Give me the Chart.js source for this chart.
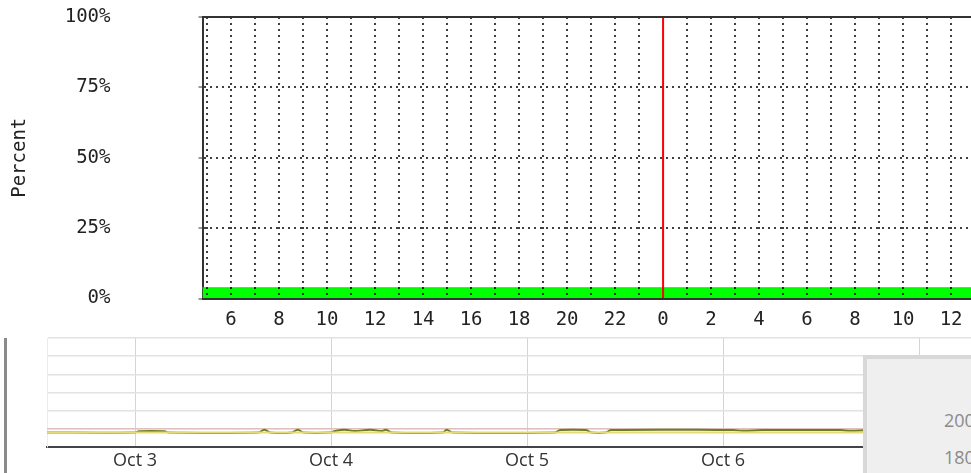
<!DOCTYPE html>
<html>
<head>
<meta charset="utf-8">
<script src="https://cdn.jsdelivr.net/npm/chart.js@4.4.1/dist/chart.umd.min.js"></script>
<style>
  html, body { margin: 0; padding: 0; background: #fff; }
  body { width: 971px; height: 473px; position: relative; overflow: hidden; }
  #usage { position: absolute; left: 0; top: 0; }
  #history { position: absolute; left: 0; top: 336px; }
  .side-bar { position: absolute; left: 4px; top: 338px; width: 3px; height: 135px; background: #8a8a8a; }
  .panel { position: absolute; left: 863px; top: 355px; width: 104px; height: 114px;
           background: #efefef; border-left: 4px solid #d8d8d8; border-top: 4px solid #d8d8d8; }
  .panel span { position: absolute; left: 77px; font: 18px "Open Sans", sans-serif; color: #8a8a8a; }
</style>
</head>
<body>
<canvas id="usage" width="971" height="336"></canvas>
<canvas id="history" width="971" height="137"></canvas>
<div class="side-bar"></div>
<div class="panel"><span style="top:49px">200</span><span style="top:86px">180</span></div>
<script>
// ---- top graph (percent per hour) ----
const percentTicks = [0, 25, 50, 75, 100];
const hourLabels = ['6', '8', '10', '12', '14', '16', '18', '20', '22', '0', '2', '4', '6', '8', '10', '12'];
const firstLabelHour = -18;
const nowHour = 0;
const hours = [-20, -19, -18, -17, -16, -15, -14, -13, -12, -11, -10, -9, -8, -7, -6, -5, -4,
  -3, -2, -1, 0, 1, 2, 3, 4, 5, 6, 7, 8, 9, 10, 11, 12, 13];
const usedPercent = [3.8, 3.8, 3.8, 3.8, 3.8, 3.8, 3.8, 3.8, 3.8, 3.8, 3.8, 3.8, 3.8, 3.8, 3.8, 3.8, 3.8,
  3.8, 3.8, 3.8, 3.8, 3.8, 3.8, 3.8, 3.8, 3.8, 3.8, 3.8, 3.8, 3.8, 3.8, 3.8, 3.8, 3.8];

// ---- bottom graph (days) ----
const dayLabels = ['Oct 3', 'Oct 4', 'Oct 5', 'Oct 6', 'Oct 7'];
const redDays = [-0.5, 4.3];
const redValues = [1.0, 1.0];
const yellowDays = [-0.5, 0, 1, 2, 3, 4, 4.3];
const yellowValues = [0.8, 0.8, 0.8, 0.8, 0.8, 0.8, 0.8];
const greenDays = [-0.5, 0.0, 0.02, 0.15, 0.17, 0.63, 0.66, 0.69, 0.80, 0.83, 0.86, 1.00, 1.02, 1.07,
  1.12, 1.20, 1.26, 1.28, 1.31, 1.57, 1.59, 1.62, 2.14, 2.17, 2.30, 2.33, 2.40, 2.43, 3.05, 3.10,
  3.20, 3.60, 3.65, 3.75, 4.30];
const greenValues = [0.8, 0.8, 0.87, 0.87, 0.8, 0.8, 0.95, 0.8, 0.8, 0.95, 0.8, 0.8, 0.88, 0.95,
  0.88, 0.95, 0.88, 0.95, 0.8, 0.8, 0.95, 0.8, 0.8, 0.93, 0.93, 0.8, 0.8, 0.93, 0.93, 0.9,
  0.93, 0.93, 0.9, 0.93, 0.93];

const pts = (xs, ys) => xs.map((x, i) => ({ x: x, y: ys[i] }));
const mono = { family: '"DejaVu Sans Mono", monospace', size: 19 };

// solid line along the top of the plot
const topEdge = {
  id: 'topEdge',
  afterDraw(chart) {
    const { ctx, chartArea } = chart;
    ctx.save();
    ctx.strokeStyle = '#333';
    ctx.lineWidth = 2;
    ctx.beginPath();
    ctx.moveTo(chartArea.left, chartArea.top);
    ctx.lineTo(chartArea.right, chartArea.top);
    ctx.stroke();
    ctx.restore();
  }
};

new Chart(document.getElementById('usage'), {
  type: 'line',
  data: {
    datasets: [
      {
        label: 'now',
        data: [{ x: nowHour, y: 0 }, { x: nowHour, y: 100 }],
        borderColor: '#ff0000',
        borderWidth: 2,
        pointRadius: 0
      },
      {
        label: 'used',
        data: pts(hours, usedPercent),
        borderColor: '#00ee00',
        backgroundColor: '#00ff00',
        borderWidth: 1,
        pointRadius: 0,
        fill: 'origin'
      }
    ]
  },
  options: {
    responsive: false,
    animation: false,
    layout: { padding: { top: 17, left: 0, right: 0, bottom: 0 } },
    plugins: { legend: { display: false }, tooltip: { enabled: false } },
    scales: {
      x: {
        type: 'linear',
        min: -19.19,
        max: 12.83,
        afterBuildTicks: s => { s.ticks = hours.filter(h => h >= s.min && h <= s.max).map(h => ({ value: h })); },
        afterFit: s => { s.height = 37.5; s.paddingLeft = 0; s.paddingRight = 0; },
        ticks: {
          autoSkip: false,
          maxRotation: 0,
          padding: 10,
          color: '#222',
          font: mono,
          callback: v => ((v - firstLabelHour) % 2 === 0 ? hourLabels[(v - firstLabelHour) / 2] : '')
        },
        grid: {
          z: 1,
          drawTicks: false,
          lineWidth: 2,
          color: c => (c.tick && c.tick.value === nowHour ? 'transparent' : 'rgba(0,0,0,0.75)')
        },
        // border after the grid layer so its position is already known
        border: { display: true, color: '#333', width: 2, dash: [2, 4], z: 2 }
      },
      y: {
        min: 0,
        max: 100,
        afterBuildTicks: s => { s.ticks = percentTicks.map(v => ({ value: v })); },
        afterFit: s => { s.width = 202.5; s.paddingTop = 0; s.paddingBottom = 0; },
        ticks: {
          padding: 88,
          color: '#222',
          font: mono,
          callback: v => v + '%'
        },
        grid: {
          lineWidth: 2,
          tickLength: 4,
          tickColor: '#333',
          tickWidth: 1,
          color: c => (c.tick && (c.tick.value === 0 || c.tick.value === 100) ? 'transparent' : 'rgba(0,0,0,0.75)')
        },
        border: { display: true, color: '#333', width: 2, dash: [2, 4] },
        title: {
          display: true,
          text: 'Percent',
          color: '#222',
          font: mono,
          padding: { top: 9, bottom: 0 }
        }
      }
    }
  },
  plugins: [topEdge]
});

new Chart(document.getElementById('history'), {
  type: 'line',
  data: {
    datasets: [
      {
        label: 'yellow',
        data: pts(yellowDays, yellowValues),
        borderColor: '#e4db78',
        borderWidth: 2,
        pointRadius: 0
      },
      {
        label: 'green',
        data: pts(greenDays, greenValues),
        borderColor: '#6c7d22',
        borderWidth: 2,
        pointRadius: 0,
        tension: 0.4
      },
      {
        label: 'red',
        data: pts(redDays, redValues),
        borderColor: 'rgba(220,160,160,0.8)',
        borderWidth: 1,
        pointRadius: 0
      }
    ]
  },
  options: {
    responsive: false,
    animation: false,
    layout: { padding: { top: 2, left: 0, right: 0, bottom: 0 } },
    plugins: { legend: { display: false }, tooltip: { enabled: false } },
    scales: {
      x: {
        type: 'linear',
        min: -0.449,
        max: 4.265,
        afterBuildTicks: s => { s.ticks = dayLabels.map((d, i) => ({ value: i })); },
        afterFit: s => { s.height = 26; s.paddingLeft = 0; s.paddingRight = 0; },
        ticks: {
          autoSkip: false,
          maxRotation: 0,
          padding: 3,
          color: '#333',
          font: { family: '"Open Sans", sans-serif', size: 18 },
          callback: v => dayLabels[v]
        },
        grid: { drawTicks: false, color: '#d4d4d4', lineWidth: 1 },
        border: { display: true, color: '#444', width: 2 }
      },
      y: {
        min: 0,
        max: 6,
        ticks: { stepSize: 1, display: false },
        afterFit: s => { s.width = 47; s.paddingTop = 0; s.paddingBottom = 0; },
        grid: { drawTicks: false, color: '#e2e2e2', lineWidth: 1.5 },
        border: { display: true, color: '#ececec', width: 1 }
      }
    }
  }
});
</script>
</body>
</html>
